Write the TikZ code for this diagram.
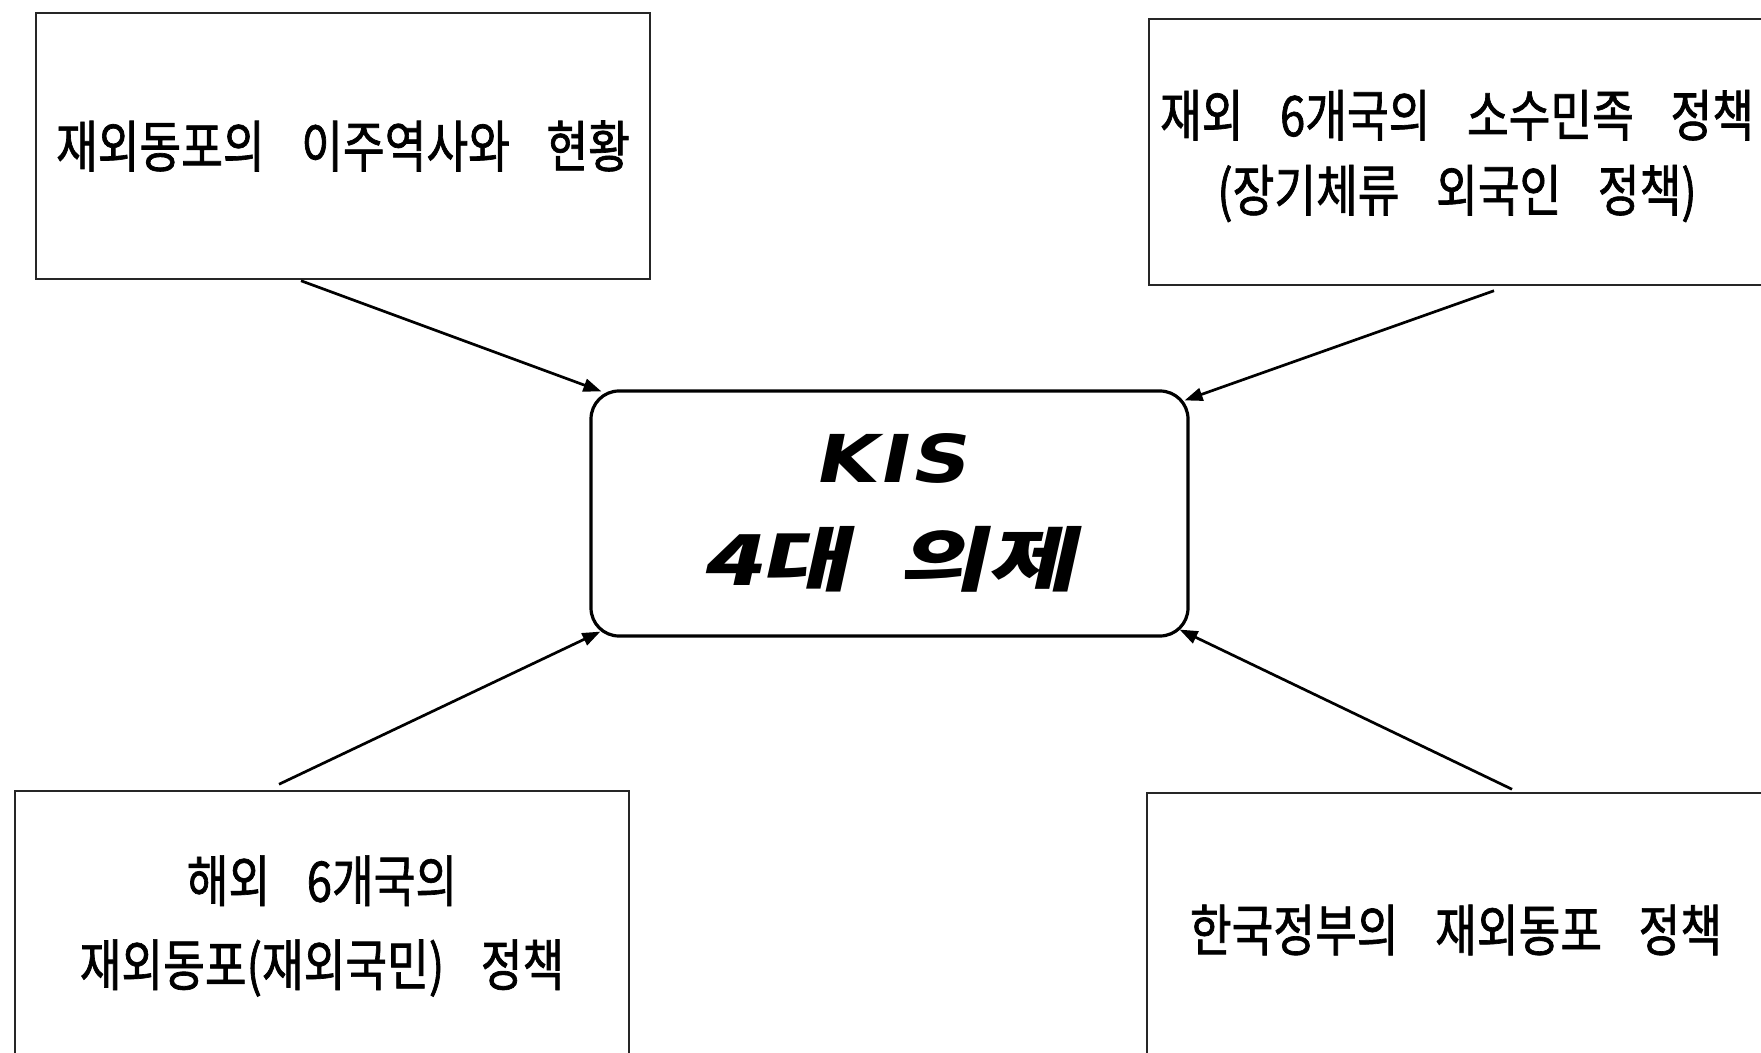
\documentclass[tikz,border=0pt]{standalone}
\usepackage{fontspec}
\usetikzlibrary{calc,arrows.meta}
\newfontfamily\kr[FakeStretch=0.81,WordSpace=3.6,FakeBold=1.2]{Noto Sans CJK KR}
\newfontfamily\krit[FakeSlant=0.22,FakeStretch=1.38,WordSpace=2.2]{Noto Sans CJK KR}
\newfontfamily\latit[FakeSlant=0.2,FakeStretch=1.2,LetterSpace=4]{DejaVu Sans}
\tikzset{
  sidebox/.style={draw=black!85,line width=0.75pt,minimum width=#1,inner sep=0pt,align=center,
     font=\kr\fontsize{28}{41.5}\selectfont},
  sidetext/.style={font=\kr\fontsize{28}{37.5}\selectfont,align=center,inner sep=0pt},
  hubbox/.style={draw,line width=1.6pt,rounded corners=14pt,inner sep=0pt,align=center},
  conn/.style={line width=1.35pt,-{Triangle[length=9pt,width=6.5pt]}}
}
\begin{document}
\begin{tikzpicture}[x=0.5pt,y=-0.5pt]
\useasboundingbox (0,0) rectangle (1761,1053);
\clip (0,0) rectangle (1761,1053);
\fill[white] (0,0) rectangle (1761,1053);
\node[sidebox=307pt,minimum height=133pt] (tl) at (343,146) {\raisebox{-3pt}{재외동포의 이주역사와 현황}};
\node[sidebox=308pt,minimum height=133pt] (tr) at (1457,152) {};
\node[sidetext] (trtext) at (1457,156) {재외 6개국의 소수민족 정책\\(장기체류 외국인 정책)};
\node[sidebox=307pt,minimum height=135pt] (bl) at (322,926) {};
\node[sidetext] (bltext) at (322,926) {해외 6개국의\\[4.5pt]재외동포(재외국민) 정책};
\node[sidebox=309pt,minimum height=137pt] (br) at (1456,930) {한국정부의 재외동포 정책};
\node[hubbox,minimum width=298.5pt,minimum height=122.5pt] (c) at (889.5,513.5) {};
\node (kis) at (890,458) {\latit\bfseries\fontsize{33}{38}\selectfont KIS};
\node (agenda) at (889,559) {\krit\bfseries\fontsize{35}{40}\selectfont 4대 의제};
\draw[conn] ($(tl.south)+(-42,1)$) -- ($(c.north west)+(12,2)$);
\draw[conn] ($(tr.south)+(37,5)$) -- ($(c.north east)+(-5,11)$);
\draw[conn] ($(bl.north)+(-43,-6)$) -- ($(c.south west)+(11,-6)$);
\draw[conn] ($(br.north)+(56,-3)$) -- ($(c.south east)+(-10,-8)$);
\end{tikzpicture}
\end{document}
